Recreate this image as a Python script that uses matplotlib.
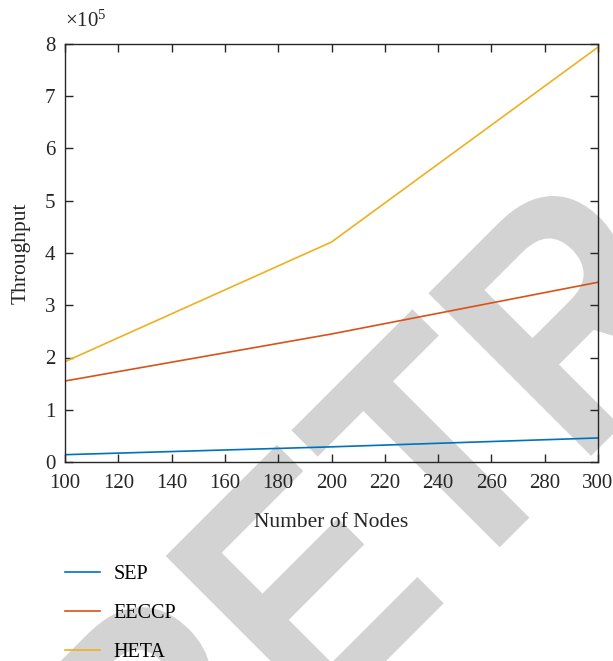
import matplotlib
matplotlib.use("Agg")
import matplotlib.pyplot as plt
from matplotlib.ticker import FuncFormatter
from matplotlib.textpath import TextPath
from matplotlib.font_manager import FontProperties
from matplotlib.patches import PathPatch
from matplotlib.transforms import Affine2D, IdentityTransform

# ---- data ----
nodes = [100, 200, 300]
sep = [14000, 29000, 46000]
eeccp = [155000, 245000, 344000]
heta = [192000, 421000, 794000]
series_names = ["SEP", "EECCP", "HETA"]
colors = ["#0072BD", "#D95319", "#EDB120"]
xticks = list(range(100, 301, 20))
yticks = [i * 100000 for i in range(0, 9)]

plt.rcParams["font.family"] = ["Liberation Serif", "DejaVu Serif"]
plt.rcParams["mathtext.fontset"] = "custom"
plt.rcParams["mathtext.rm"] = "Liberation Serif"
plt.rcParams["mathtext.it"] = "Liberation Serif:italic"

W, H = 613, 661
fig = plt.figure(figsize=(W / 100, H / 100), dpi=100)
ax = fig.add_axes([65 / W, 1 - 462 / H, (598 - 65) / W, (462 - 44) / H])
ax.patch.set_visible(False)

# ---- watermark (text outline placed along a 45 degree diagonal) ----
wm_prop = FontProperties(family="Liberation Sans", weight="bold")
EM = 100.0
cap = TextPath((0, 0), "T", size=EM, prop=wm_prop).get_extents().height
t_end = TextPath((0, 0), "RET", size=EM, prop=wm_prop).get_extents().xmax
e_right = TextPath((0, 0), "RE", size=EM, prop=wm_prop).get_extents().xmax
e_w = TextPath((0, 0), "E", size=EM, prop=wm_prop).get_extents().width
e_left = e_right - e_w
vs = 230.0 / cap
hs = (73.0 - (-276.0)) / (t_end - e_left)
s0 = 73.0 - hs * t_end
wm_path = TextPath((0, 0), "RETRACTED", size=EM, prop=wm_prop)
wm_tr = (Affine2D().scale(hs, vs).translate(s0, 0).rotate_deg(45)
         .translate(523.5, H - 523.5))
wm = PathPatch(wm_tr.transform_path(wm_path), facecolor="#d3d3d3",
               edgecolor="none", transform=IdentityTransform(), zorder=-10)
fig.add_artist(wm)

for vals, name, c in zip([sep, eeccp, heta], series_names, colors):
    ax.plot(nodes, vals, color=c, lw=1.2, label=name)

ax.set_xlim(100, 300)
ax.set_ylim(0, 800000)
ax.set_xticks(xticks)
ax.set_yticks(yticks)
ax.yaxis.set_major_formatter(FuncFormatter(lambda v, p: f"{v / 1e5:g}"))
ax.tick_params(direction="in", length=6, width=1, top=True, right=True,
               labelsize=15, colors="#262626")
ax.tick_params(axis="x", pad=9)
ax.tick_params(axis="y", pad=7)
for s in ax.spines.values():
    s.set_color("#262626")
    s.set_linewidth(1)

ax.text(0, 1.04, r"$\times\mathregular{10^{5}}$", transform=ax.transAxes,
        fontsize=15, color="#262626", ha="left", va="baseline")

ax.set_xlabel("Number of Nodes", fontsize=15.5, color="#262626", labelpad=14)
ax.set_ylabel("Throughput", fontsize=15.5, color="#262626", labelpad=10.5)

fig.legend(loc="upper left", bbox_to_anchor=(47 / W, 1 - 547 / H),
           frameon=False, fontsize=14.5, handlelength=1.75, labelspacing=0.98,
           handletextpad=0.65)

fig.savefig("out.png", dpi=100)
